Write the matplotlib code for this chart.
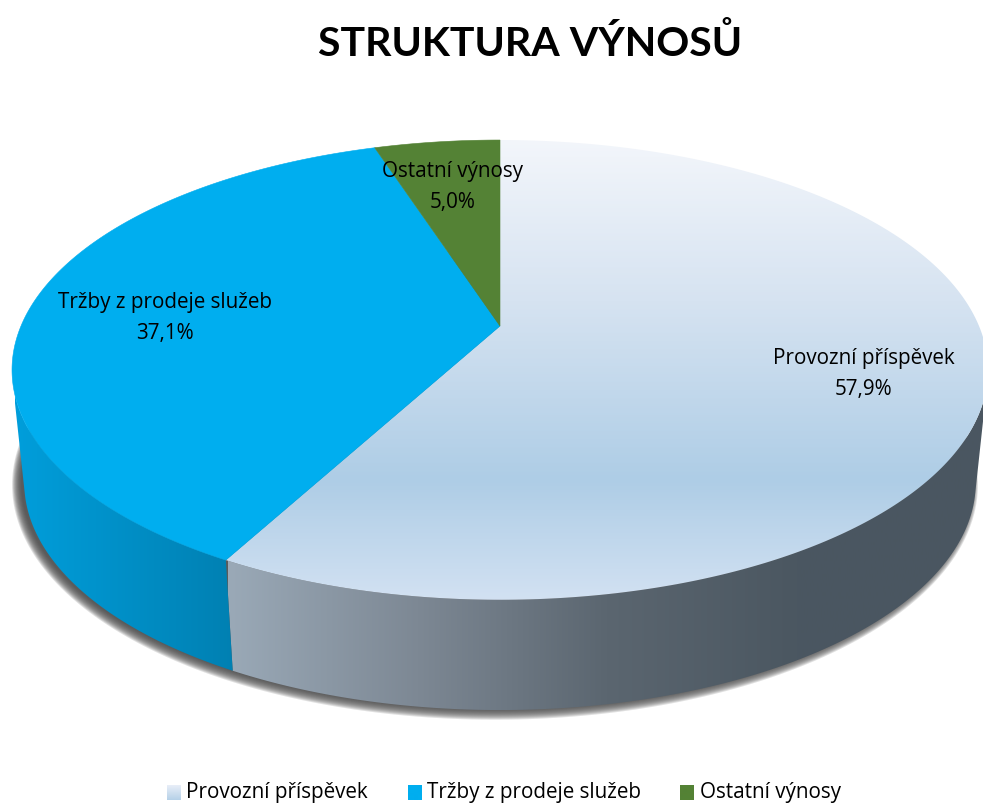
import numpy as np
import matplotlib
matplotlib.use("Agg")
import matplotlib.pyplot as plt
from matplotlib.colors import LinearSegmentedColormap as LSC
from matplotlib.patches import Polygon

title = "STRUKTURA VÝNOSŮ"
categories = ["Provozní příspěvek", "Tržby z prodeje služeb", "Ostatní výnosy"]
values = [57.9, 37.1, 5.0]

label_xy = [(864, 374), (165, 318), (453, 187)]
legend_x = [167, 408, 680]
legend_text_x = [186, 427, 700]

CX, CY, RX, RY, K = 500, 326, 479, 221.5, 0.191
DEPTH, SX, SY = 113, 0.975, 0.99


def rim(theta, bottom=False, grow=0.0):
    u, v = np.sin(theta), np.cos(theta)
    w = 1 + K * v
    if bottom:
        return (CX + (RX * SX + grow) * u / w, CY + DEPTH - (RY * SY + grow) * v / w)
    return (CX + RX * u / w, CY - RY * v / w)


fig = plt.figure(figsize=(9.83, 8.05), dpi=100)
ax = fig.add_axes([0, 0, 1, 1])
ax.set_axis_off()


def fill(poly, stops, horizontal, lo, hi, z):
    cmap = LSC.from_list("g", stops)
    n = np.linspace(0, 1, 256)
    img = n[None, :] if horizontal else n[:, None]
    ext = (lo, hi, 805, 0) if horizontal else (0, 983, hi, lo)
    im = ax.imshow(img, cmap=cmap, extent=ext, aspect="auto", zorder=z, origin="upper",
                   interpolation="bilinear")
    patch = Polygon(poly, closed=True, transform=ax.transData, fc="none", ec="none")
    ax.add_patch(patch)
    im.set_clip_path(patch)


# slice boundaries, clockwise from 12 o'clock
edges = np.radians(np.concatenate([[0], np.cumsum(values) * 3.6]))
spans = [np.linspace(edges[i], edges[i + 1], 300) for i in range(3)]

# front-facing part of the rim: rim tangent vs. top-to-bottom edge
probe = np.linspace(0, 2 * np.pi, 2881)
px, py = rim(probe)
bx, by = rim(probe, True)
tx_, ty_ = np.gradient(px), np.gradient(py)
front = (tx_ * (by - py) - ty_ * (bx - px)) < 0
front_theta = probe[front]
fmin, fmax = front_theta.min(), front_theta.max()

# soft drop shadow under the base
full = np.linspace(0, 2 * np.pi, 400)
for g in np.linspace(7, -2, 12):
    x, y = rim(full, True, g)
    ax.add_patch(Polygon(np.c_[x - 5, y + 1], closed=True, fc="#4a4a4a", ec="none", alpha=0.17, zorder=1))

# side walls
wall_styles = [
    (["#9aa9b7", "#7d8894", "#5b6670", "#4b5761", "#4a5661"], 228, 985),
    (["#009edb", "#0080b2"], 15, 235),
    (["#3f6a2a", "#3f6a2a"], 375, 500),
]
for t, (stops, lo, hi) in zip(spans, wall_styles):
    t = t[(t >= fmin) & (t <= fmax)]
    if len(t) < 2:
        continue
    xt, yt = rim(t)
    xb, yb = rim(t, True)
    poly = np.r_[np.c_[xt, yt], np.c_[xb, yb][::-1]]
    fill(poly, stops, True, lo, hi, 2)

# top faces
xt, yt = rim(spans[0])
fill(np.r_[[[CX, CY]], np.c_[xt, yt]],
     [(0, "#f3f6fb"), (0.35, "#d6e3f1"), (0.74, "#aecde6"), (1, "#d2e1f2")], False, 140, 600, 3)
for t, color in zip(spans[1:], ["#00aeef", "#548235"]):
    xt, yt = rim(t)
    ax.add_patch(Polygon(np.r_[[[CX, CY]], np.c_[xt, yt]], closed=True, fc=color, ec=color, lw=0.4, zorder=3))

font = "Open Sans"
for name, val, (x, y) in zip(categories, values, label_xy):
    ax.text(x, y, f"{name}\n{val:.1f}%".replace(".", ","), ha="center", va="center", fontsize=14.9,
            family=font, color="#000000", linespacing=1.62, zorder=5)

ax.text(530, 44, title, ha="center", va="center", fontsize=29.5, fontweight="bold", family="Lato", color="#000000", zorder=5)

# legend
lstops = [["#e9eff8", "#b5d0e8"], ["#00aeef", "#00aeef"], ["#548235", "#548235"]]
for name, sx, tx, stops in zip(categories, legend_x, legend_text_x, lstops):
    s = [sx, sx + 14]
    fill(np.array([[s[0], 785], [s[1], 785], [s[1], 800], [s[0], 800]]), stops, False, 785, 800, 4)
    ax.text(tx, 792, name, ha="left", va="center", fontsize=14.9, family=font, color="#000000", zorder=5)

ax.set_xlim(0, 983)
ax.set_ylim(805, 0)
fig.savefig("out.png", dpi=100, facecolor="white")
